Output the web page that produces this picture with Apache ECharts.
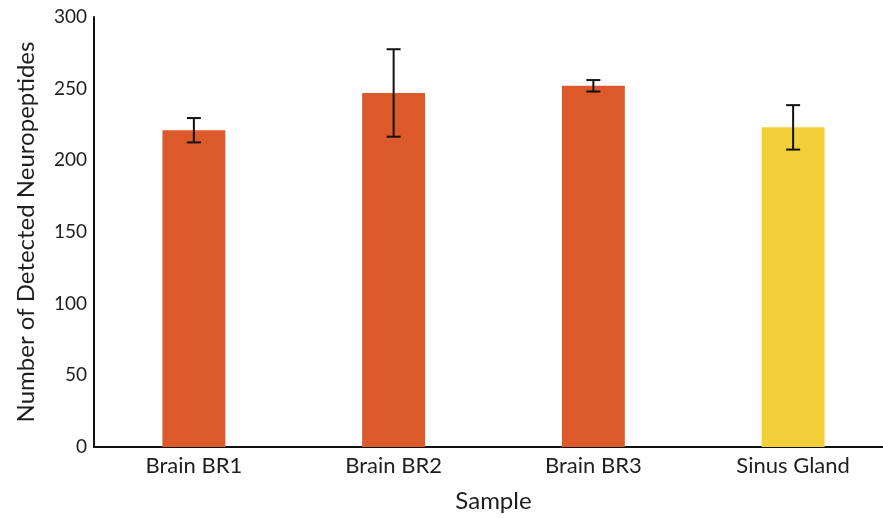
<!DOCTYPE html>
<html>
<head>
<meta charset="utf-8">
<script src="https://cdn.jsdelivr.net/npm/echarts@6/dist/echarts.min.js"></script>
<style>
  html, body { margin: 0; padding: 0; background: #ffffff; }
  #chart { width: 883px; height: 518px; }
</style>
</head>
<body>
<div id="chart"></div>
<script>
// Samples and mean neuropeptide counts with their standard deviations
const categories = ['Brain BR1', 'Brain BR2', 'Brain BR3', 'Sinus Gland'];
const counts = [221, 247, 252, 223];
const errors = [8.5, 30.5, 4, 15.5];
const barColors = ['#DC592C', '#DC592C', '#DC592C', '#F3D03A'];
const yTicks = [0, 50, 100, 150, 200, 250, 300];

const FONT = 'Lato';

const chart = echarts.init(document.getElementById('chart'), null, { renderer: 'canvas' });

const errorData = categories.map((c, i) => [i, counts[i] - errors[i], counts[i] + errors[i]]);

chart.setOption({
  animation: false,
  backgroundColor: '#ffffff',
  // plot runs slightly past the right edge of the canvas
  grid: { left: 94, width: 799, top: 17, bottom: 71, containLabel: false, outerBoundsMode: 'none' },
  xAxis: {
    type: 'category',
    data: categories,
    name: 'Sample',
    nameLocation: 'middle',
    nameGap: 42,
    nameTextStyle: { fontFamily: FONT, fontSize: 24, color: '#1e1e1e' },
    axisLine: { lineStyle: { color: '#111', width: 2 } },
    axisTick: { show: false },
    axisLabel: { fontFamily: FONT, fontSize: 22, color: '#1e1e1e', margin: 8 }
  },
  yAxis: {
    type: 'value',
    min: yTicks[0],
    max: yTicks[yTicks.length - 1],
    interval: yTicks[1] - yTicks[0],
    name: 'Number of Detected Neuropeptides',
    nameLocation: 'middle',
    nameGap: 56,
    nameTextStyle: { fontFamily: FONT, fontSize: 24, color: '#1e1e1e' },
    axisLine: { show: true, lineStyle: { color: '#111', width: 2 } },
    axisTick: { show: false },
    splitLine: { show: false },
    axisLabel: { fontFamily: FONT, fontSize: 19, color: '#1e1e1e', margin: 7 }
  },
  series: [
    {
      type: 'bar',
      barWidth: '31.5%',
      data: counts.map((v, i) => ({ value: v, itemStyle: { color: barColors[i] } })),
      z: 2
    },
    {
      type: 'custom',
      data: errorData,
      z: 3,
      renderItem: function (params, api) {
        const x = api.value(0);
        const lo = api.coord([x, api.value(1)]);
        const hi = api.coord([x, api.value(2)]);
        const half = 7;
        const style = { stroke: '#111', lineWidth: 2 };
        return {
          type: 'group',
          children: [
            { type: 'line', shape: { x1: lo[0], y1: lo[1], x2: hi[0], y2: hi[1] }, style },
            { type: 'line', shape: { x1: hi[0] - half, y1: hi[1], x2: hi[0] + half, y2: hi[1] }, style },
            { type: 'line', shape: { x1: lo[0] - half, y1: lo[1], x2: lo[0] + half, y2: lo[1] }, style }
          ]
        };
      }
    }
  ]
});
</script>
</body>
</html>
